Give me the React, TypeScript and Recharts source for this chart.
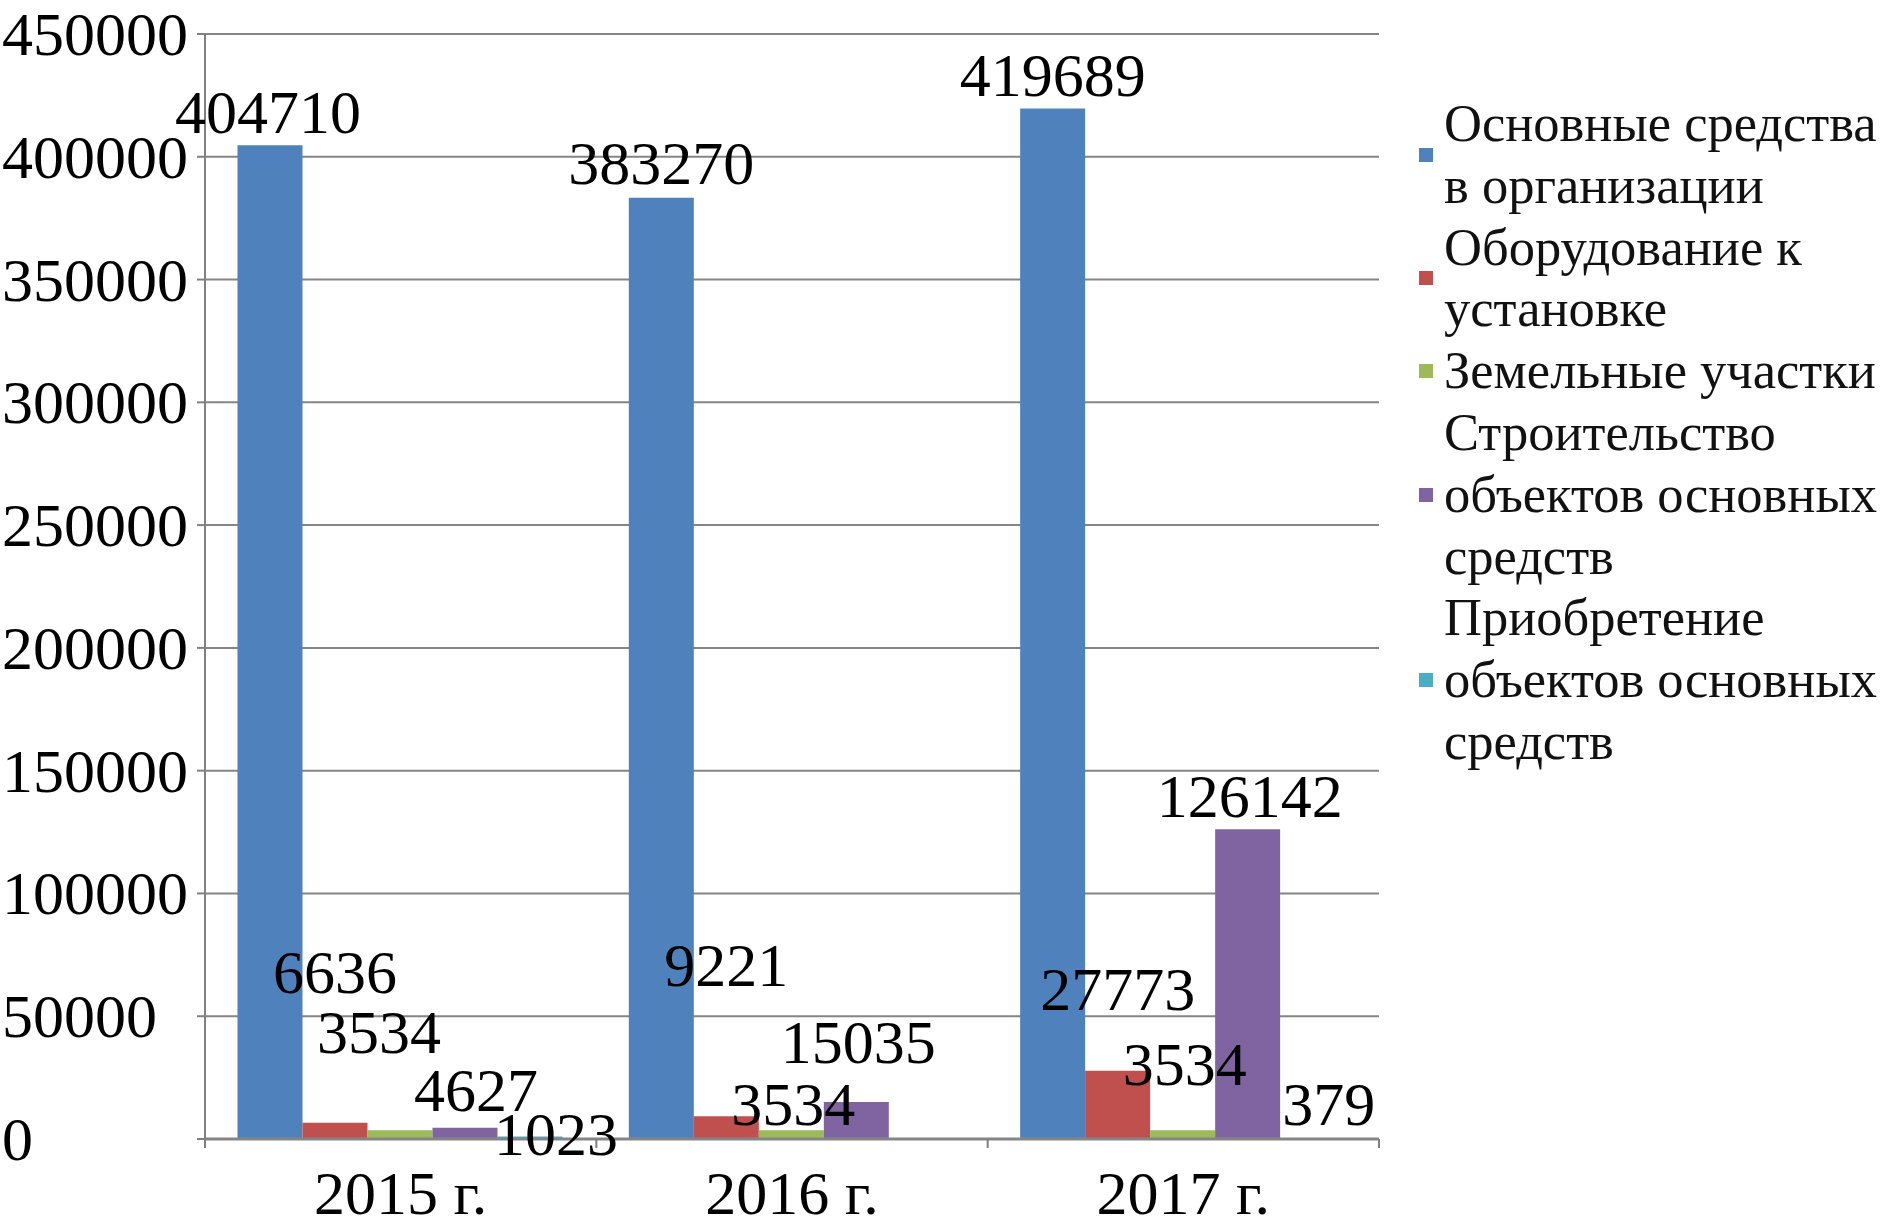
import React from 'react';
import { BarChart, Bar, XAxis, YAxis, CartesianGrid, LabelList } from 'recharts';

const categories = ['2015 г.', '2016 г.', '2017 г.'];
const seriesNames = [
  'Основные средства в организации',
  'Оборудование к установке',
  'Земельные участки',
  'Строительство объектов основных средств',
  'Приобретение объектов основных средств',
];
const osnovnye = [404710, 383270, 419689];
const oborudovanie = [6636, 9221, 27773];
const zemelnye = [3534, 3534, 3534];
const stroitelstvo = [4627, 15035, 126142];
const priobretenie: (number | null)[] = [1023, null, 379];
const yTicks = [0, 50000, 100000, 150000, 200000, 250000, 300000, 350000, 400000, 450000];

const colors = ['#4F81BD', '#C0504D', '#9BBB59', '#8064A2', '#4BACC6'];
const seriesKeys = ['s0', 's1', 's2', 's3', 's4'];
const seriesValues = [osnovnye, oborudovanie, zemelnye, stroitelstvo, priobretenie];

// data-label placement tweaks (px), relative to the top-centre of each bar
const labelDx = [[-2, 0, 0], [0, 0, 0], [-21, 2, 2], [11, 2, 2], [26, 0, 16]];
const labelDy = [[-33, -35, -33], [-151, -151, -82], [-98, -26, -66], [-38, -60, -33], [-2, 0, -34]];

const data = categories.map((name, i) => {
  const row: any = { name };
  seriesKeys.forEach((k, s) => { row[k] = seriesValues[s][i]; });
  return row;
});

const FONT = '"Liberation Serif", "Times New Roman", serif';
const W = 1892;
const H = 1219;
const M = { top: 34, right: 513, bottom: 0, left: 0 };
const YW = 205;
const XH = 80;
const plotW = W - M.left - M.right - YW;
const band = plotW / categories.length;

const makeLabel = (s: number) => (props: any) => {
  const { x, y, width, value } = props;
  if (value === null || value === undefined) return null;
  const bx = Number(x) + Number(width) / 2;
  const ci = Math.max(0, Math.min(categories.length - 1, Math.floor((bx - M.left - YW) / band)));
  const cx = bx + labelDx[s][ci];
  const cy = Number(y) + labelDy[s][ci];
  return (
    <text x={cx} y={cy} textAnchor="middle" dominantBaseline="central" fontFamily={FONT} fontSize={62} fill="#000">
      {value}
    </text>
  );
};

const YTick = (props: any) => {
  const { y, payload } = props;
  return (
    <text x={2} y={y} textAnchor="start" dominantBaseline="central" fontFamily={FONT} fontSize={62} fill="#000">
      {payload.value}
    </text>
  );
};

const XTick = (props: any) => {
  const { x, y, payload, index } = props;
  const left = x - band / 2;
  return (
    <g>
      <line x1={left} x2={left} y1={y} y2={y + 9} stroke="#808080" strokeWidth={2} />
      {index === categories.length - 1 && (
        <line x1={x + band / 2} x2={x + band / 2} y1={y} y2={y + 9} stroke="#808080" strokeWidth={2} />
      )}
      <text x={x} y={y + 54} textAnchor="middle" dominantBaseline="central" fontFamily={FONT} fontSize={62} fill="#000">
        {payload.value}
      </text>
    </g>
  );
};

const legendLines = [
  ['Основные средства', 'в организации'],
  ['Оборудование к', 'установке'],
  ['Земельные участки'],
  ['Строительство', 'объектов основных', 'средств'],
  ['Приобретение', 'объектов основных', 'средств'],
];

export default function App() {
  return (
    <div style={{ position: 'absolute', left: 0, top: 0, width: W, height: H, background: '#fff' }}>
      <BarChart width={W} height={H} data={data} margin={M} barCategoryGap="8.3%" barGap={0}>
        <CartesianGrid horizontal vertical={false} stroke="#858585" strokeWidth={2} />
        <XAxis
          dataKey="name"
          height={XH}
          axisLine={{ stroke: '#858585', strokeWidth: 3 }}
          tickLine={false}
          tickSize={0}
          tickMargin={0}
          tick={<XTick />}
          interval={0}
        />
        <YAxis
          width={YW}
          domain={[0, 450000]}
          ticks={yTicks}
          interval={0}
          axisLine={{ stroke: '#808080', strokeWidth: 2 }}
          tickLine={{ stroke: '#808080', strokeWidth: 2 }}
          tickSize={8}
          tick={<YTick />}
        />
        {seriesKeys.map((k, s) => (
          <Bar key={k} dataKey={k} name={seriesNames[s]} fill={colors[s]} isAnimationActive={false}>
            <LabelList dataKey={k} content={makeLabel(s)} />
          </Bar>
        ))}
      </BarChart>
      <div style={{ position: 'absolute', left: 1419, top: 93, fontFamily: FONT, fontSize: 52.5, lineHeight: '61.8px', color: '#111' }}>
        {seriesNames.map((n, s) => (
          <div key={n} style={{ display: 'flex', alignItems: 'center' }} title={n}>
            <div style={{ width: 14, height: 14, background: colors[s], marginRight: 11, flex: 'none' }} />
            <div style={{ whiteSpace: 'nowrap' }}>
              {legendLines[s].map((l, j) => (
                <div key={j}>{l}</div>
              ))}
            </div>
          </div>
        ))}
      </div>
    </div>
  );
}
